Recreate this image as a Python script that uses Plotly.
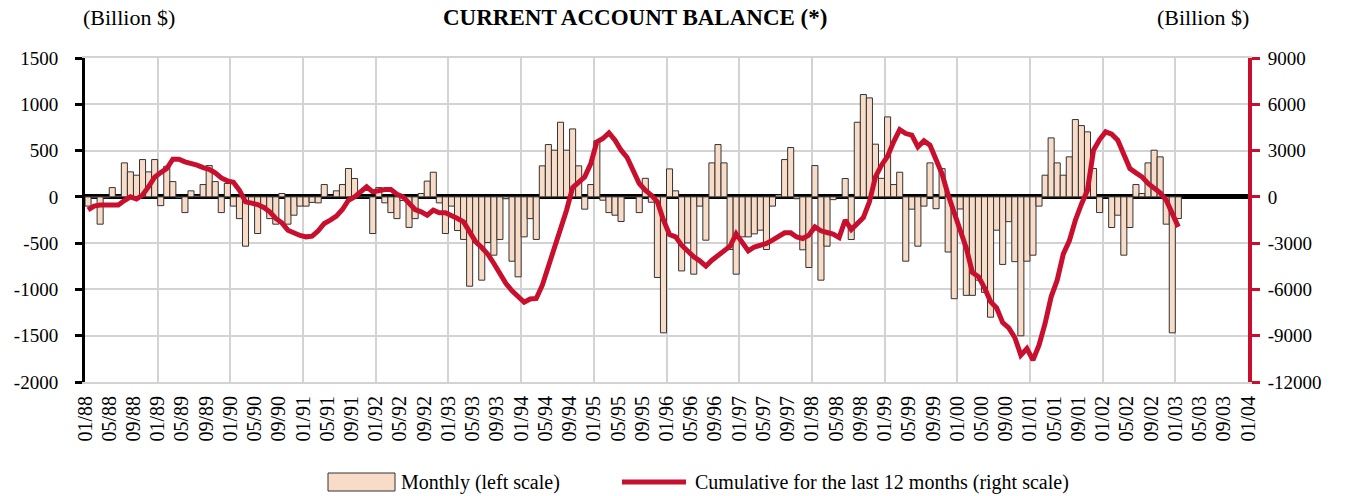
import plotly.graph_objects as go
import numpy as np

# Monthly current account balance (billion $), 01/88 .. 01/03 (left scale)
monthly = [
    -100, -10, -295, -10, 100, 10, 367, 270, 234, 403, 270, 403,
    -95, 330, 165, -10, -170, 65, 10, 133, 338, 165, -170, 145,
    -100, -235, -533, -80, -396, -100, -235, -295, 36, -295, -198, -100,
    -100, -60, -65, 133, 10, 65, 133, 306, 198, 0, 0, -396,
    100, -65, -170, -235, -40, -330, -235, 36, 170, 266, -65, -396,
    -100, -364, -460, -965, -493, -900, -493, -630, -460, -20, -695, -864,
    -432, -235, -460, 335, 565, 504, 806, 504, 734, 335, -133, 133,
    605, -36, -170, -198, -266, 0, 0, -170, 200, -58, -871, -1469,
    302, 65, -800, -497, -835, -100, -468, 367, 565, 367, -569, -835,
    -432, -432, -400, -360, -569, -100, 20, 403, 533, -20, -572, -763,
    338, -900, -533, -30, 0, 198, -461, 806, 1105, 1069, 569, 200,
    864, 133, 266, -695, -133, -533, -100, 367, -128, 305, -596, -1100,
    -131, -1064, -1064, -900, -1032, -1300, -360, -730, -268, -700, -1501, -695,
    -630, -100, 234, 637, 367, 234, 432, 835, 770, 702, 306, -170,
    0, -331, -198, -630, -331, 133, 36, 367, 504, 432, -295, -1469,
    -234,
]

# Cumulative for the last 12 months (billion $, right scale)
cumulative = [
    -850, -600, -525, -525, -525, -525, -240, 0, -140, 120, 660, 1270,
    1570, 1836, 2440, 2440, 2268, 2200, 2052, 1900, 1790, 1555, 1230, 1037,
    950, 430, -324, -410, -500, -690, -970, -1400, -1685, -2160, -2376, -2500,
    -2592, -2550, -2200, -1728, -1512, -1253, -821, -216, 0, 324, 648, 324,
    432, 475, 475, 173, 0, -432, -821, -972, -1188, -864, -1037, -1037,
    -1188, -1404, -1620, -2268, -2916, -3283, -3715, -4320, -4968, -5616, -6091, -6480,
    -6830, -6620, -6588, -5724, -4493, -3283, -2160, -864, 605, 972, 1296, 2160,
    3564, 3780, 4147, 3672, 3024, 2549, 1771, 864, 432, 108, -324, -1512,
    -2441, -2592, -3132, -3564, -3888, -4147, -4493, -4104, -3780, -3456, -3197, -2400,
    -3000, -3500, -3250, -3154, -3024, -2808, -2592, -2333, -2333, -2600, -2700, -2480,
    -1950, -2200, -2310, -2420, -2640, -1500, -2120, -1770, -1340, -320, 1300, 2052,
    2635, 3564, 4363, 4104, 3996, 3240, 3629, 3348, 2500, 1480, 120, -1100,
    -2250, -3330, -4900, -5170, -5900, -6790, -7200, -8150, -8500, -9115, -10260, -9828,
    -10584, -9612, -8208, -6480, -5400, -3715, -2851, -1512, -475, 432, 3024, 3715,
    4212, 4060, 3672, 2808, 1836, 1555, 1296, 864, 540, 259, -216, -1080,
    -1944,
]

# Axis tick labels every 4 months, 01/88 .. 01/04
tick_labels = [f"{m:02d}/{y % 100:02d}" for y in range(1988, 2004) for m in (1, 5, 9)] + ["01/04"]
tick_pos = list(range(0, 193, 4))
year_pos = list(range(0, 193, 12))
left_ticks = list(range(-2000, 1501, 500))
left_tick_text = [str(v) for v in left_ticks]
right_ticks = list(range(-12000, 9001, 3000))
right_tick_text = [str(v) for v in right_ticks]

bar_name = "Monthly (left scale)"
line_name = "Cumulative for the last 12 months (right scale)"

x = np.arange(len(monthly)) + 0.5

FONT = "Liberation Serif"
GRID = "#d3d3d3"
RED = "#c8102e"
PEACH = "#f8dcc8"

# page body margin is removed via post_script, so page pixels == figure pixels
FW, FH = 1353, 496
L, T = 85, 58
W, H = 1163, 324
R, B = FW - L - W, FH - T - H

fig = go.Figure()
fig.add_trace(go.Bar(
    x=x, y=monthly, width=1.0, name=bar_name, showlegend=False,
    marker=dict(color=PEACH, line=dict(color="#333333", width=1)),
    yaxis="y",
))
fig.add_trace(go.Scatter(
    x=x, y=cumulative, mode="lines", name=line_name, showlegend=False,
    line=dict(color=RED, width=5), yaxis="y2",
))


def px(xp):
    return (xp - L) / W


def py(yp):
    return (FH - B - yp) / H


shapes = [
    dict(type="rect", xref="paper", yref="paper", x0=px(328), x1=px(395), y0=py(491), y1=py(473),
         fillcolor=PEACH, line=dict(color="#333333", width=1)),
    dict(type="line", xref="paper", yref="paper", x0=px(622), x1=px(686), y0=py(482), y1=py(482),
         line=dict(color=RED, width=5)),
]

annotations = [
    dict(text="<b>CURRENT ACCOUNT BALANCE (*)</b>", x=px(635), y=py(18), xref="paper", yref="paper",
         showarrow=False, font=dict(family=FONT, size=23), xanchor="center", yanchor="middle"),
    dict(text="(Billion $)", x=px(129), y=py(18), xref="paper", yref="paper",
         showarrow=False, font=dict(family=FONT, size=22), xanchor="center", yanchor="middle"),
    dict(text="(Billion $)", x=px(1203), y=py(18), xref="paper", yref="paper",
         showarrow=False, font=dict(family=FONT, size=22), xanchor="center", yanchor="middle"),
    dict(text=bar_name, x=px(399), y=py(482), xref="paper", yref="paper",
         showarrow=False, font=dict(family=FONT, size=20), xanchor="left", yanchor="middle"),
    dict(text=line_name, x=px(693), y=py(482), xref="paper", yref="paper",
         showarrow=False, font=dict(family=FONT, size=20), xanchor="left", yanchor="middle"),
]

fig.update_layout(
    width=FW, height=FH,
    margin=dict(l=L, r=R, t=T, b=B, autoexpand=False),
    paper_bgcolor="white", plot_bgcolor="white",
    font=dict(family=FONT, size=20, color="black"),
    bargap=0,
    showlegend=False,
    hovermode=False,
    xaxis=dict(
        range=[0, 192], tickmode="array", tickvals=tick_pos, ticktext=tick_labels,
        tickangle=-90, tickfont=dict(family=FONT, size=20), ticks="", showgrid=False,
        ticklabelstandoff=4,
        minor=dict(tickmode="array", tickvals=year_pos, showgrid=True, gridcolor=GRID, gridwidth=2, ticks=""),
        showline=True, linecolor=GRID, linewidth=2, mirror=True, zeroline=False, automargin=False,
    ),
    yaxis=dict(
        range=[-2000, 1500], tickmode="array", tickvals=left_ticks, ticktext=left_tick_text,
        showgrid=True, gridcolor=GRID, gridwidth=2,
        zeroline=True, zerolinecolor="black", zerolinewidth=5,
        showline=True, linecolor="black", linewidth=3,
        ticks="outside", ticklen=7, tickwidth=3, tickcolor="black",
        tickfont=dict(family=FONT, size=19), ticklabelstandoff=13, automargin=False,
        layer="above traces",
    ),
    yaxis2=dict(
        range=[-12000, 9000], tickmode="array", tickvals=right_ticks, ticktext=right_tick_text,
        overlaying="y", side="right",
        showgrid=False, zeroline=False,
        showline=True, linecolor=RED, linewidth=4,
        ticks="outside", ticklen=8, tickwidth=3, tickcolor=RED,
        tickfont=dict(family=FONT, size=19), ticklabelstandoff=4, automargin=False,
    ),
    shapes=shapes,
    annotations=annotations,
)

fig.write_html("out.html", config={"displayModeBar": False, "staticPlot": True},
               post_script="document.body.style.margin='0';")
